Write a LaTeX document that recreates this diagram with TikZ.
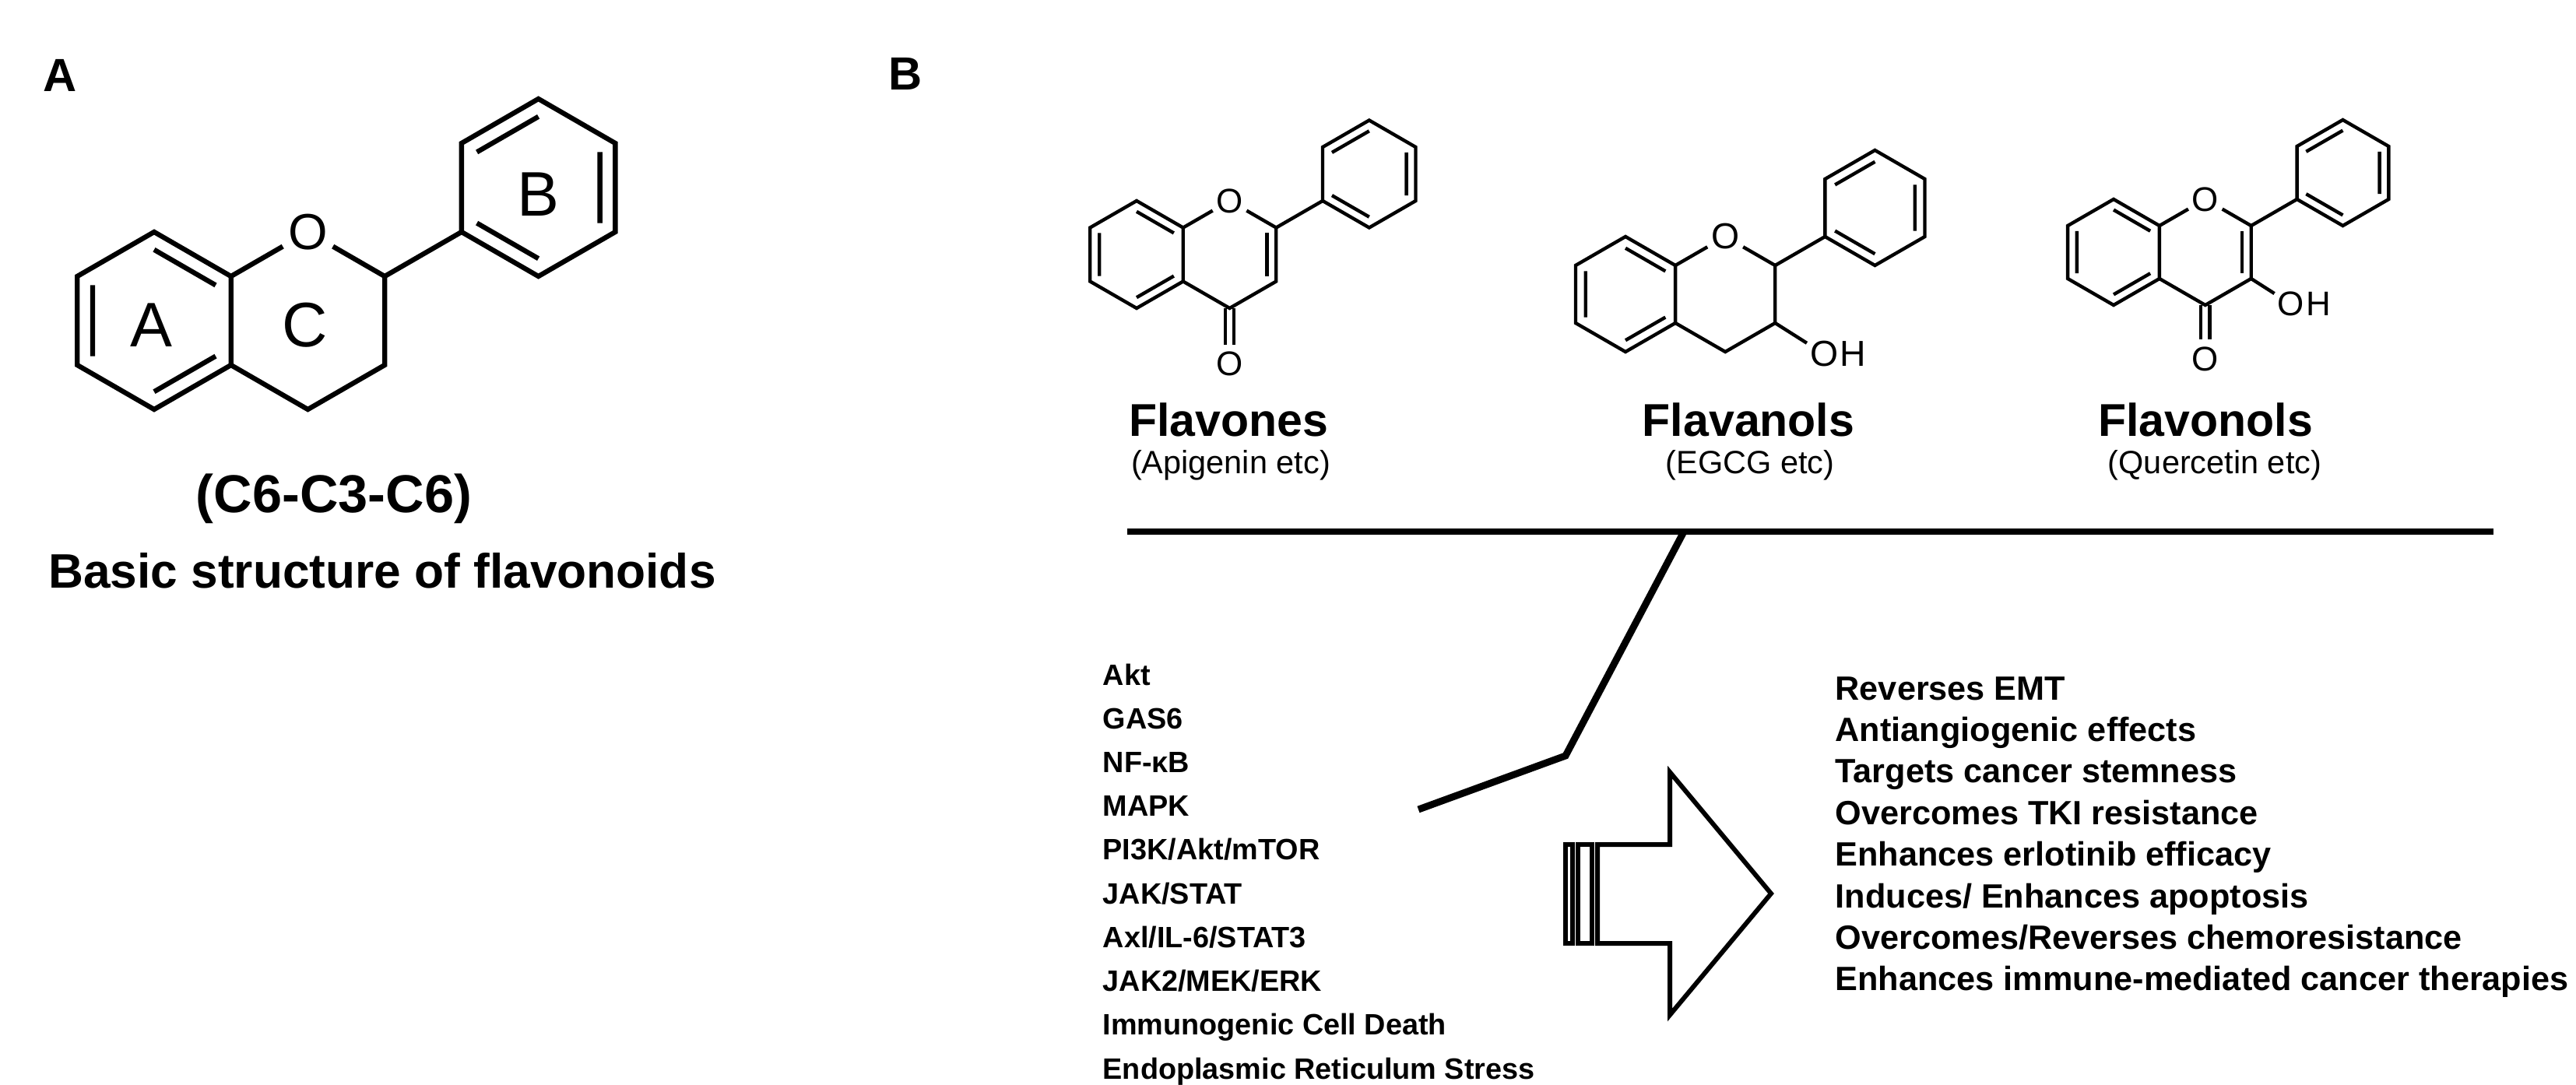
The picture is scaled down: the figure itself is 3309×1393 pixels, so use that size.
\documentclass[tikz,border=0pt]{standalone}
\usepackage{fontspec}
\setmainfont{Liberation Sans}

\begin{document}
\begin{tikzpicture}[x=0.1mm, y=-0.1mm,
    bondA/.style = {line width=1.8pt},
    bondB/.style = {line width=1.25pt},
    atomA/.style = {circle, inner sep=0pt, font=\fontsize{18.5}{22}\selectfont},
    atomB/.style = {circle, inner sep=0pt, font=\fontsize{12.5}{14}\selectfont},
    atomC/.style = {circle, inner sep=0pt, font=\fontsize{13.2}{15}\selectfont},
    ring/.style = {font=\fontsize{23}{28}\selectfont},
    panel/.style = {font=\bfseries\fontsize{17}{20}\selectfont},
    title/.style = {anchor=base, font=\bfseries\fontsize{16.8}{20}\selectfont},
    sub/.style = {anchor=base, font=\fontsize{11.8}{14}\selectfont},
    litem/.style = {anchor=north west, inner sep=0pt, text height=11pt, text depth=4.6pt, font=\bfseries\fontsize{10.76}{15.6}\selectfont},
    ritem/.style = {anchor=north west, inner sep=0pt, text height=11pt, text depth=3.8pt, font=\bfseries\fontsize{12.3}{14.8}\selectfont},
    bar/.style = {line width=2.55pt},
    outline/.style = {line width=1.7pt}]
  \useasboundingbox (0,0) rectangle (3309,1393);

  % panel A: basic skeleton
  \node[panel] (pA) at (77,97) {A};
  \begin{scope}[shift={(198,412)}, x=11.4mm, y=-11.4mm, bondA]
    \node[atomA] (aO) at (1.732,-1) {O};
    \draw (0,-1) -- (0.866,-0.5) -- (0.866,0.5) -- (0,1) -- (-0.866,0.5) -- (-0.866,-0.5) -- cycle;
    \draw (0,-0.8) -- (0.693,-0.4) (-0.693,-0.4) -- (-0.693,0.4) (0,0.8) -- (0.693,0.4);
    \draw (0.866,-0.5) -- (aO) -- (2.598,-0.5) -- (2.598,0.5) -- (1.732,1) -- (0.866,0.5);
    \draw (2.598,-0.5) -- (3.464,-1);
    \draw (3.464,-1) -- (3.464,-2) -- (4.33,-2.5) -- (5.196,-2) -- (5.196,-1) -- (4.33,-0.5) -- cycle;
    \draw (3.637,-1.9) -- (4.33,-2.3) (5.023,-1.9) -- (5.023,-1.1) (3.637,-1.1) -- (4.33,-0.7);
    \node[ring] (rA) at (-0.03,0.05) {A};
    \node[ring] (rC) at (1.70,0.05) {C};
    \node[ring] (rB) at (4.33,-1.42) {B};
  \end{scope}
  \node[anchor=base, font=\bfseries\fontsize{19.5}{24}\selectfont] (c6) at (429,658) {(C6-C3-C6)};
  \node[anchor=base, font=\bfseries\fontsize{17.7}{21}\selectfont] (basic) at (491,755) {Basic structure of flavonoids};

  % panel B: flavone
  \node[panel] (pB) at (1163,95) {B};
  \begin{scope}[shift={(1460,327)}, x=6.9mm, y=-6.9mm, bondB]
    \node[atomB] (fvO) at (1.732,-1) {O};
    \node[atomB] (fvK) at (1.732,2.04) {O};
    \draw[double, double distance=1.9pt] (1.732,1) -- (fvK);
    \draw (0,-1) -- (0.866,-0.5) -- (0.866,0.5) -- (0,1) -- (-0.866,0.5) -- (-0.866,-0.5) -- cycle;
    \draw (0,-0.8) -- (0.693,-0.4) (-0.693,-0.4) -- (-0.693,0.4) (0,0.8) -- (0.693,0.4);
    \draw (0.866,-0.5) -- (fvO) -- (2.598,-0.5) -- (2.598,0.5) -- (1.732,1) -- (0.866,0.5);
    \draw (2.425,-0.4) -- (2.425,0.4);
    \draw (2.598,-0.5) -- (3.464,-1);
    \draw (3.464,-1) -- (3.464,-2) -- (4.33,-2.5) -- (5.196,-2) -- (5.196,-1) -- (4.33,-0.5) -- cycle;
    \draw (3.637,-1.9) -- (4.33,-2.3) (5.023,-1.9) -- (5.023,-1.1) (3.637,-1.1) -- (4.33,-0.7);
  \end{scope}
  \node[title] (t1) at (1578,560) {Flavones};
  \node[sub] (s1) at (1581,608) {(Apigenin etc)};

  % flavanol
  \begin{scope}[shift={(2088,378)}, x=7.4mm, y=-7.4mm, bondB]
    \node[atomC] (flO) at (1.732,-1) {O};
    \node[atomC] (flOH) at (3.45,1.04) {O};
    \node[atomC, rectangle, anchor=west, xshift=5.1pt] (flH) at (flOH.center) {H};
    \draw (0,-1) -- (0.866,-0.5) -- (0.866,0.5) -- (0,1) -- (-0.866,0.5) -- (-0.866,-0.5) -- cycle;
    \draw (0,-0.8) -- (0.693,-0.4) (-0.693,-0.4) -- (-0.693,0.4) (0,0.8) -- (0.693,0.4);
    \draw (0.866,-0.5) -- (flO) -- (2.598,-0.5) -- (2.598,0.5) -- (1.732,1) -- (0.866,0.5);
    \draw (2.598,0.5) -- (flOH);
    \draw (2.598,-0.5) -- (3.464,-1);
    \draw (3.464,-1) -- (3.464,-2) -- (4.33,-2.5) -- (5.196,-2) -- (5.196,-1) -- (4.33,-0.5) -- cycle;
    \draw (3.637,-1.9) -- (4.33,-2.3) (5.023,-1.9) -- (5.023,-1.1) (3.637,-1.1) -- (4.33,-0.7);
  \end{scope}
  \node[title] (t2) at (2246,560) {Flavanols};
  \node[sub] (s2) at (2248,608) {(EGCG etc)};

  % flavonol
  \begin{scope}[shift={(2715,324)}, x=6.8mm, y=-6.8mm, bondB]
    \node[atomB] (fnO) at (1.732,-1) {O};
    \node[atomB] (fnK) at (1.732,2.02) {O};
    \node[atomB] (fnOH) at (3.35,0.98) {O};
    \node[atomB, rectangle, anchor=west, xshift=4.9pt] (fnH) at (fnOH.center) {H};
    \draw[double, double distance=1.9pt] (1.732,1) -- (fnK);
    \draw (0,-1) -- (0.866,-0.5) -- (0.866,0.5) -- (0,1) -- (-0.866,0.5) -- (-0.866,-0.5) -- cycle;
    \draw (0,-0.8) -- (0.693,-0.4) (-0.693,-0.4) -- (-0.693,0.4) (0,0.8) -- (0.693,0.4);
    \draw (0.866,-0.5) -- (fnO) -- (2.598,-0.5) -- (2.598,0.5) -- (1.732,1) -- (0.866,0.5);
    \draw (2.425,-0.4) -- (2.425,0.4);
    \draw (2.598,0.5) -- (fnOH);
    \draw (2.598,-0.5) -- (3.464,-1);
    \draw (3.464,-1) -- (3.464,-2) -- (4.33,-2.5) -- (5.196,-2) -- (5.196,-1) -- (4.33,-0.5) -- cycle;
    \draw (3.637,-1.9) -- (4.33,-2.3) (5.023,-1.9) -- (5.023,-1.1) (3.637,-1.1) -- (4.33,-0.7);
  \end{scope}
  \node[title] (t3) at (2833,560) {Flavonols};
  \node[sub] (s3) at (2845,608) {(Quercetin etc)};

  % bar and pointer
  \coordinate (barL) at (1448,683);
  \coordinate (barR) at (3203,683);
  \coordinate (hub) at (2163,683);
  \coordinate (knee) at (2011,971);
  \coordinate (tail) at (1822,1040);
  \draw[bar] (barL) -- (barR);
  \draw[bar] (hub) -- (knee) -- (tail);

  % pathways
  \node[litem, anchor=base west] (l1) at (1416,880) {Akt};
  \node[litem] (l2) at (l1.south west) {GAS6};
  \node[litem] (l3) at (l2.south west) {NF-κB};
  \node[litem] (l4) at (l3.south west) {MAPK};
  \node[litem] (l5) at (l4.south west) {PI3K/Akt/mTOR};
  \node[litem] (l6) at (l5.south west) {JAK/STAT};
  \node[litem] (l7) at (l6.south west) {Axl/IL-6/STAT3};
  \node[litem] (l8) at (l7.south west) {JAK2/MEK/ERK};
  \node[litem] (l9) at (l8.south west) {Immunogenic Cell Death};
  \node[litem] (l10) at (l9.south west) {Endoplasmic Reticulum Stress};

  % striped arrow
  \draw[outline] (2011,1085) rectangle (2020,1212);
  \draw[outline] (2027,1085) rectangle (2045,1212);
  \draw[outline] (2052,1085) -- (2145,1085) -- (2145,992) -- (2275,1148) -- (2145,1304) -- (2145,1212) -- (2052,1212) -- cycle;

  % effects
  \node[ritem, anchor=base west] (r1) at (2357,899) {Reverses EMT};
  \node[ritem] (r2) at (r1.south west) {Antiangiogenic effects};
  \node[ritem] (r3) at (r2.south west) {Targets cancer stemness};
  \node[ritem] (r4) at (r3.south west) {Overcomes TKI resistance};
  \node[ritem] (r5) at (r4.south west) {Enhances erlotinib efficacy};
  \node[ritem] (r6) at (r5.south west) {Induces/ Enhances apoptosis};
  \node[ritem] (r7) at (r6.south west) {Overcomes/Reverses chemoresistance};
  \node[ritem] (r8) at (r7.south west) {Enhances immune-mediated cancer therapies};
\end{tikzpicture}
\end{document}
